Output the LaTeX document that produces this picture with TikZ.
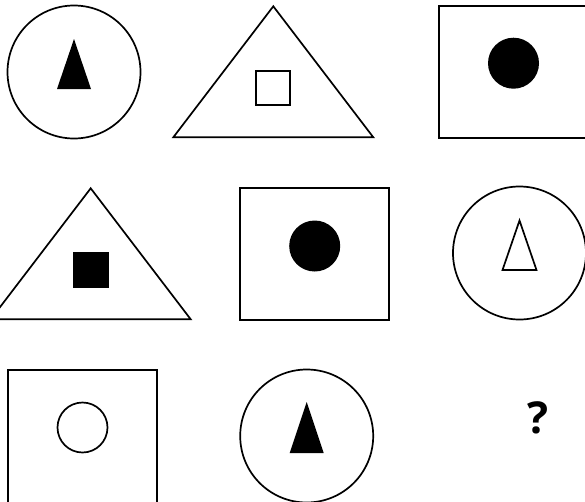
\documentclass[tikz,border=0pt]{standalone}
\usepackage{fontspec}
\newfontfamily\qfont{Open Sans}

\begin{document}
\begin{tikzpicture}[x=1pt, y=-1pt, line width=1.7pt, line join=miter,
		ring/.style={circle, draw, inner sep=0pt, minimum size=133pt},
		frame/.style={rectangle, draw, inner sep=0pt, minimum width=149pt, minimum height=132pt},
		dot/.style={circle, fill, inner sep=0pt, minimum size=51pt},
		hole/.style={circle, draw, inner sep=0pt, minimum size=50pt},
		tile/.style={rectangle, draw, inner sep=0pt, minimum size=34pt}]
		\useasboundingbox (0,0) rectangle (585,501);
		\clip (0,0) rectangle (585,501);
		
		% 参数：大三角形半底宽与高，小尖三角形的尺寸
		\def\bw{100}  % 大三角形半底宽
		\def\bh{131}  % 大三角形高
		\def\sw{17}   % 小三角形半底宽
		\def\sh{50}   % 小三角形高
		
		% ---------------------- 第一行 ----------------------
		\node (c1) [ring] at (74,72) {};
		\fill (c1.center) ++(0,-33) -- ++(\sw,\sh) -- ++(-2*\sw,0) -- cycle; % 实心尖三角
		
		\coordinate (b1) at (273.3,137.3); % 大三角形底边中点
		\draw (b1) ++(-\bw,0) -- ++(\bw,-\bh) -- ++(\bw,\bh) -- cycle;
		\node (s1) [tile] at ([yshift=49pt]b1) {};
		
		\node (r1) [frame] at (513.5,71.7) {};
		\node (d1) [dot] at ([yshift=8.5pt]r1.center) {};
		
		% ---------------------- 第二行 ----------------------
		\coordinate (b2) at (90.7,319.3);
		\draw (b2) ++(-\bw,0) -- ++(\bw,-\bh) -- ++(\bw,\bh) -- cycle;
		\node (s2) [tile, fill] at ([yshift=49pt]b2) {};
		
		\node (r2) [frame] at (314.7,254) {};
		\node (d2) [dot] at ([yshift=8pt]r2.center) {};
		
		\node (c2) [ring] at (519.5,253) {};
		\draw (c2.center) ++(0,-32.5) -- ++(\sw,49.5) -- ++(-2*\sw,0) -- cycle; % 空心尖三角
		
		% ---------------------- 第三行 ----------------------
		\node (r3) [frame, minimum height=136pt] at (82.5,438) {}; % 底边在画面之外
		\node (h3) [hole] at ([yshift=10.5pt]r3.center) {};
		
		\node (c3) [ring] at (306.7,436) {};
		\fill (c3.center) ++(0,-34) -- ++(\sw,\sh+1) -- ++(-2*\sw,0) -- cycle;
		
		\node (q) at (538.3,418) {\qfont\bfseries\fontsize{44}{44}\selectfont ?};
	\end{tikzpicture}
\end{document}
